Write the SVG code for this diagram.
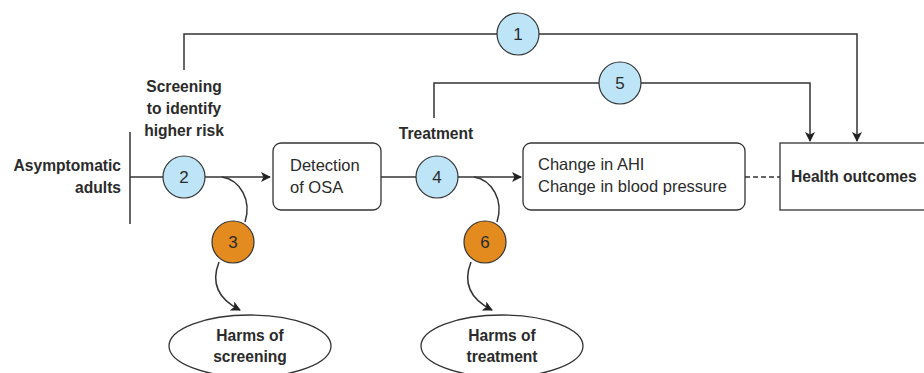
<svg xmlns="http://www.w3.org/2000/svg" width="924" height="373" viewBox="0 0 924 373">
<style>
.ln{fill:none;stroke:#333;stroke-width:1.5}
.box{fill:#fff;stroke:#333;stroke-width:1.3}
.blue{fill:#bde4f7;stroke:#333;stroke-width:1.2}
.orange{fill:#e38b1f;stroke:#333;stroke-width:1.2}
text{font-family:"Liberation Sans",Arial,sans-serif;font-size:16.5px;fill:#2b2b2b}
.b{font-weight:bold;font-size:15.6px}
.num{font-size:17px;text-anchor:middle}
</style>
<defs>
<marker id="ah" viewBox="0 0 10 10" refX="9" refY="5" markerWidth="10" markerHeight="10" markerUnits="userSpaceOnUse" orient="auto">
<path d="M0,0 L10,5 L0,10 L2.5,5 Z" fill="#222"/>
</marker>
</defs>
<rect width="924" height="373" fill="#fff"/>
<g id="connectors">
<path class="ln" d="M184,70 V34 H857 V141" marker-end="url(#ah)"/>
<path class="ln" d="M434,118 V83 H810 V141" marker-end="url(#ah)"/>
<path class="ln" d="M130,132 V224"/>
<path class="ln" d="M130,177 H270" marker-end="url(#ah)"/>
<path class="ln" d="M381,177 H521" marker-end="url(#ah)"/>
<path class="ln" d="M745,177 H780" stroke-dasharray="5,3"/>
<path class="ln" d="M222,177 C240,180 252,200 245,222"/>
<path class="ln" d="M219,262 C210,285 220,300 240,310" marker-end="url(#ah)"/>
<path class="ln" d="M474,177 C492,180 504,200 497,222"/>
<path class="ln" d="M471,262 C462,285 472,300 492,310" marker-end="url(#ah)"/>
</g>
<g id="c1"><circle class="blue" cx="518" cy="34" r="21"/><text class="num" x="518" y="40">1</text></g>
<g id="c5"><circle class="blue" cx="620" cy="83" r="21"/><text class="num" x="620" y="89">5</text></g>
<g id="c2"><circle class="blue" cx="184" cy="177" r="21"/><text class="num" x="184" y="183">2</text></g>
<g id="c4"><circle class="blue" cx="437" cy="177" r="21"/><text class="num" x="437" y="183">4</text></g>
<g id="c3"><circle class="orange" cx="233" cy="242" r="21"/><text class="num" x="233" y="248">3</text></g>
<g id="c6"><circle class="orange" cx="485" cy="242" r="21"/><text class="num" x="485" y="248">6</text></g>
<g id="asym">
<text class="b" x="121" y="171" text-anchor="end">Asymptomatic</text>
<text class="b" x="121" y="193" text-anchor="end">adults</text>
</g>
<g id="screening">
<text class="b" x="184" y="92" text-anchor="middle">Screening</text>
<text class="b" x="184" y="114" text-anchor="middle">to identify</text>
<text class="b" x="184" y="136" text-anchor="middle">higher risk</text>
</g>
<g id="treatment"><text class="b" x="436" y="139" text-anchor="middle">Treatment</text></g>
<g id="detection">
<rect class="box" x="273" y="143" width="108" height="67" rx="8"/>
<text x="290" y="171">Detection</text>
<text x="290" y="193">of OSA</text>
</g>
<g id="change">
<rect class="box" x="523" y="143" width="222" height="67" rx="8"/>
<text x="538" y="170">Change in AHI</text>
<text x="538" y="192">Change in blood pressure</text>
</g>
<g id="health">
<rect class="box" x="780" y="143" width="150" height="67"/>
<text class="b" x="791" y="182">Health outcomes</text>
</g>
<g id="harms-screening">
<ellipse class="box" cx="250" cy="346" rx="81" ry="31"/>
<text class="b" x="250" y="341" text-anchor="middle">Harms of</text>
<text class="b" x="250" y="362" text-anchor="middle">screening</text>
</g>
<g id="harms-treatment">
<ellipse class="box" cx="502" cy="346" rx="81" ry="31"/>
<text class="b" x="502" y="341" text-anchor="middle">Harms of</text>
<text class="b" x="502" y="362" text-anchor="middle">treatment</text>
</g>
</svg>
